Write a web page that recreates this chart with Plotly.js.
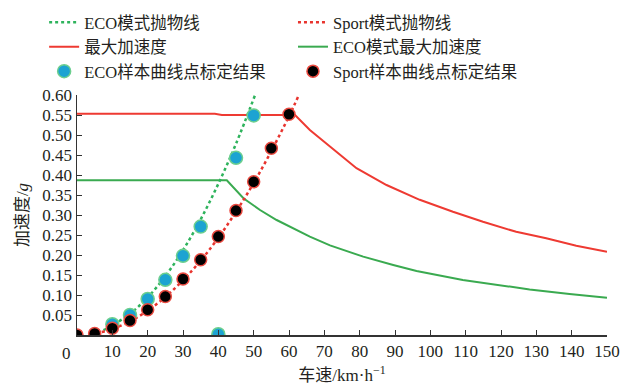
<!DOCTYPE html>
<html>
<head>
<meta charset="utf-8">
<script src="https://cdn.plot.ly/plotly-3.0.1.min.js"></script>
<style>
  html, body { margin: 0; padding: 0; background: #ffffff; }
  #chart { width: 623px; height: 385px; }
</style>
</head>
<body>
<div id="chart"></div>
<script>
// Vehicle speed (km/h) vs. acceleration (g) — ECO and Sport drive modes

// Maximum acceleration curve (Sport / overall)
const maxAccSpeed = [0, 39, 41, 61.7, 65.9, 71.6, 74.4, 79.1, 87.6, 97.0, 106.4, 114.9, 124.3, 132.8, 141.3, 150];
const maxAccValue = [0.553, 0.553, 0.550, 0.550, 0.5125, 0.471, 0.452, 0.417, 0.375, 0.338, 0.308, 0.283, 0.258, 0.242, 0.223, 0.208];

// ECO-mode maximum acceleration curve
const ecoMaxSpeed = [0, 42.4, 47.1, 51.8, 56.5, 61.2, 65.9, 71.6, 81.0, 89.5, 96.1, 109.2, 116.8, 128.1, 139.4, 150];
const ecoMaxValue = [0.387, 0.387, 0.342, 0.3125, 0.2875, 0.267, 0.246, 0.224, 0.196, 0.175, 0.160, 0.1375, 0.1275, 0.114, 0.1025, 0.093];

// ECO-mode fitted parabola
const ecoParaSpeed = [7.5, 10, 15, 20, 25, 30, 35, 40, 45, 50.4];
const ecoParaValue = [0.012, 0.024, 0.053, 0.094, 0.147, 0.212, 0.289, 0.378, 0.478, 0.600];

// Sport-mode fitted parabola
const sportParaSpeed = [7, 10, 15, 20, 25, 30, 35, 40, 45, 50, 55, 60, 62.8];
const sportParaValue = [0.0075, 0.015, 0.034, 0.061, 0.095, 0.137, 0.186, 0.243, 0.308, 0.380, 0.460, 0.547, 0.600];

// Calibrated sample points, ECO mode
const ecoPtSpeed = [10, 15, 20, 25, 30, 35, 40, 45, 50];
const ecoPtValue = [0.027, 0.050, 0.090, 0.138, 0.198, 0.271, 0.002, 0.443, 0.549];

// Calibrated sample points, Sport mode
const sportPtSpeed = [0, 5, 10, 15, 20, 25, 30, 35, 40, 45, 50, 55, 60];
const sportPtValue = [0.0, 0.004, 0.017, 0.036, 0.063, 0.096, 0.140, 0.188, 0.246, 0.311, 0.383, 0.467, 0.552];

// Axis ticks
const xTicks = [10, 20, 30, 40, 50, 60, 70, 80, 90, 100, 110, 120, 130, 140, 150];
const yTicks = [0.05, 0.10, 0.15, 0.20, 0.25, 0.30, 0.35, 0.40, 0.45, 0.50, 0.55, 0.60];

const FONT = '"Liberation Serif", "Times New Roman", "Noto Sans CJK SC", serif';
const INK = '#231f20';

// Line traces first so the sample markers sit on top; legend order via legendrank
const traces = [
  {
    x: maxAccSpeed, y: maxAccValue, type: 'scatter', mode: 'lines',
    name: '最大加速度', legend: 'legend', legendrank: 2,
    line: { color: '#ee3a32', width: 2 }
  },
  {
    x: ecoMaxSpeed, y: ecoMaxValue, type: 'scatter', mode: 'lines',
    name: 'ECO模式最大加速度', legend: 'legend2', legendrank: 2,
    line: { color: '#3aaa50', width: 2 }
  },
  {
    x: ecoParaSpeed, y: ecoParaValue, type: 'scatter', mode: 'lines',
    name: 'ECO模式抛物线', legend: 'legend', legendrank: 1,
    line: { color: '#2eb35c', width: 2.5, dash: 'dot', shape: 'spline' }
  },
  {
    x: sportParaSpeed, y: sportParaValue, type: 'scatter', mode: 'lines',
    name: 'Sport模式抛物线', legend: 'legend2', legendrank: 1,
    line: { color: '#e8342e', width: 2.5, dash: 'dot', shape: 'spline' }
  },
  {
    x: ecoPtSpeed, y: ecoPtValue, type: 'scatter', mode: 'markers',
    name: 'ECO样本曲线点标定结果', legend: 'legend', legendrank: 3,
    marker: { color: '#1ca3d2', size: 13, line: { color: '#6ccf8e', width: 1.5 } }
  },
  {
    x: sportPtSpeed, y: sportPtValue, type: 'scatter', mode: 'markers',
    name: 'Sport样本曲线点标定结果', legend: 'legend2', legendrank: 3,
    marker: { color: '#000000', size: 12, line: { color: '#ea4a40', width: 1.5 } }
  }
];

const legendCommon = {
  orientation: 'v', xanchor: 'left', y: 1.375, yanchor: 'top',
  itemwidth: 30, font: { family: FONT, size: 16.5, color: INK },
  bgcolor: 'rgba(0,0,0,0)', borderwidth: 0, traceorder: 'normal'
};

const layout = {
  width: 623, height: 385,
  margin: { l: 77, r: 16, t: 95, b: 50, pad: 0, autoexpand: false },
  paper_bgcolor: '#ffffff', plot_bgcolor: '#ffffff',
  font: { family: FONT, size: 16, color: INK },
  showlegend: true,
  legend: Object.assign({ x: -0.062 }, legendCommon),
  legend2: Object.assign({ x: 0.4075 }, legendCommon),
  xaxis: {
    range: [0, 150], tickvals: xTicks, ticktext: xTicks.map(String),
    showgrid: false, zeroline: false, showline: true, linecolor: '#333333', linewidth: 1.5,
    ticks: 'inside', ticklen: 5, tickcolor: '#333333', tickwidth: 1,
    tickfont: { family: FONT, size: 17, color: INK },
    title: { text: '车速/km·h<sup>−1</sup>', font: { family: FONT, size: 17, color: INK }, standoff: 10 }
  },
  yaxis: {
    range: [0, 0.6], tickvals: yTicks, tickformat: '.2f',
    showgrid: false, zeroline: false, showline: true, linecolor: '#333333', linewidth: 1.5,
    ticks: 'inside', ticklen: 5, tickcolor: '#333333', tickwidth: 1,
    tickfont: { family: FONT, size: 17, color: INK },
    title: { text: '加速度/<i>g</i>', font: { family: FONT, size: 17, color: INK }, standoff: 9 }
  },
  annotations: [
    { text: '0', xref: 'paper', yref: 'paper', x: -0.019, y: -0.075,
      xanchor: 'center', yanchor: 'middle', showarrow: false,
      font: { family: FONT, size: 17, color: INK } }
  ]
};

Plotly.newPlot('chart', traces, layout, { displayModeBar: false, staticPlot: true });
</script>
</body>
</html>
